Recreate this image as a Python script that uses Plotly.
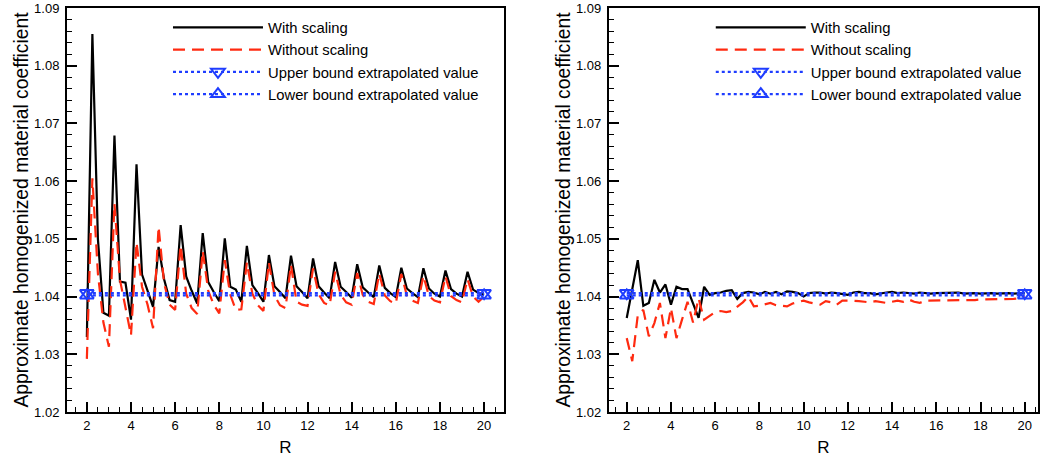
import plotly.graph_objects as go
from plotly.subplots import make_subplots

# R sampling (same for both panels)
r_vals = [2.0, 2.25, 2.5, 2.75, 3.0, 3.25, 3.5, 3.75, 4.0, 4.25, 4.5, 4.75,
          5.0, 5.25, 5.5, 5.75, 6.0, 6.25, 6.5, 6.75, 7.0, 7.25, 7.5, 7.75,
          8.0, 8.25, 8.5, 8.75, 9.0, 9.25, 9.5, 9.75, 10.0, 10.25, 10.5, 10.75,
          11.0, 11.25, 11.5, 11.75, 12.0, 12.25, 12.5, 12.75, 13.0, 13.25, 13.5, 13.75,
          14.0, 14.25, 14.5, 14.75, 15.0, 15.25, 15.5, 15.75, 16.0, 16.25, 16.5, 16.75,
          17.0, 17.25, 17.5, 17.75, 18.0, 18.25, 18.5, 18.75, 19.0, 19.25, 19.5, 19.75,
          20.0]

# left panel
left_with = [1.0330, 1.0855, 1.0500, 1.0372, 1.0367, 1.0679, 1.0426, 1.0424,
             1.0360, 1.0629, 1.0438, 1.0410, 1.0382, 1.0486, 1.0430, 1.0394,
             1.0391, 1.0524, 1.0435, 1.0410, 1.0388, 1.0510, 1.0425, 1.0408,
             1.0392, 1.0501, 1.0417, 1.0412, 1.0391, 1.0488, 1.0420, 1.0406,
             1.0391, 1.0472, 1.0418, 1.0408, 1.0397, 1.0471, 1.0418, 1.0408,
             1.0397, 1.0466, 1.0418, 1.0407, 1.0397, 1.0460, 1.0417, 1.0408,
             1.0398, 1.0456, 1.0416, 1.0407, 1.0399, 1.0454, 1.0415, 1.0406,
             1.0399, 1.0450, 1.0414, 1.0406, 1.0399, 1.0449, 1.0414, 1.0405,
             1.0400, 1.0445, 1.0413, 1.0405, 1.0400, 1.0443, 1.0412, 1.0406,
             1.0403]
left_without = [1.0292, 1.0605, 1.0440, 1.0355, 1.0313, 1.0561, 1.0429, 1.0383,
                1.0333, 1.0494, 1.0417, 1.0386, 1.0345, 1.0521, 1.0423, 1.0386,
                1.0377, 1.0489, 1.0405, 1.0380, 1.0370, 1.0479, 1.0410, 1.0386,
                1.0371, 1.0463, 1.0403, 1.0377, 1.0378, 1.0459, 1.0405, 1.0385,
                1.0375, 1.0459, 1.0402, 1.0385, 1.0380, 1.0455, 1.0391, 1.0386,
                1.0384, 1.0449, 1.0404, 1.0389, 1.0385, 1.0443, 1.0403, 1.0390,
                1.0386, 1.0441, 1.0403, 1.0391, 1.0387, 1.0440, 1.0402, 1.0392,
                1.0388, 1.0439, 1.0402, 1.0393, 1.0389, 1.0436, 1.0401, 1.0393,
                1.0390, 1.0435, 1.0401, 1.0394, 1.0390, 1.0430, 1.0400, 1.0391,
                1.0400]

# right panel
right_with = [1.0363, 1.0412, 1.0463, 1.0384, 1.0389, 1.0429, 1.0407, 1.0421,
              1.0386, 1.0417, 1.0413, 1.0413, 1.0389, 1.0363, 1.0417, 1.0403,
              1.0406, 1.0407, 1.0410, 1.0411, 1.0396, 1.0406, 1.0408, 1.0407,
              1.0404, 1.0408, 1.0405, 1.0408, 1.0404, 1.0409, 1.0408, 1.0406,
              1.0400, 1.0406, 1.0407, 1.0407, 1.0405, 1.0407, 1.0406, 1.0405,
              1.0403, 1.0407, 1.0408, 1.0406, 1.0406, 1.0404, 1.0406, 1.0407,
              1.0408, 1.0406, 1.0407, 1.0406, 1.0405, 1.0407, 1.0406, 1.0405,
              1.0406, 1.0406, 1.0407, 1.0406, 1.0407, 1.0405, 1.0406, 1.0406,
              1.0405, 1.0406, 1.0406, 1.0405, 1.0406, 1.0406, 1.0405, 1.0406,
              1.0406]
right_without = [1.0328, 1.0288, 1.0368, 1.0377, 1.0331, 1.0354, 1.0389, 1.0328,
                 1.0380, 1.0328, 1.0360, 1.0391, 1.0355, 1.0397, 1.0360, 1.0367,
                 1.0373, 1.0375, 1.0373, 1.0375, 1.0382, 1.0390, 1.0400, 1.0383,
                 1.0384, 1.0386, 1.0389, 1.0385, 1.0384, 1.0383, 1.0388, 1.0390,
                 1.0393, 1.0390, 1.0388, 1.0386, 1.0392, 1.0390, 1.0386, 1.0393,
                 1.0393, 1.0393, 1.0392, 1.0391, 1.0390, 1.0392, 1.0390, 1.0389,
                 1.0391, 1.0393, 1.0391, 1.0395, 1.0391, 1.0389, 1.0393, 1.0393,
                 1.0393, 1.0393, 1.0394, 1.0393, 1.0394, 1.0394, 1.0393, 1.0394,
                 1.0395, 1.0395, 1.0395, 1.0396, 1.0396, 1.0396, 1.0396, 1.0397,
                 1.0400]

# extrapolated bounds (drawn at the two ends of R)
bound_r = [2.0, 20.0]
upper_bound = [1.0406, 1.0406]
lower_bound = [1.0402, 1.0402]

FONT = "Liberation Sans, Arial, Helvetica, sans-serif"
BLUE = "#1f3dff"
RED = "#ff2a10"

fig = make_subplots(rows=1, cols=2)

panels = [(1, left_with, left_without, "legend"), (2, right_with, right_without, "legend2")]
for col, with_vals, without_vals, leg in panels:
    fig.add_trace(go.Scatter(x=r_vals, y=with_vals, mode="lines", name="With scaling",
                             line=dict(color="black", width=2.2), legend=leg), row=1, col=col)
    fig.add_trace(go.Scatter(x=r_vals, y=without_vals, mode="lines", name="Without scaling",
                             line=dict(color=RED, width=2.2, dash="12px,7px"), legend=leg), row=1, col=col)
    fig.add_trace(go.Scatter(x=bound_r, y=upper_bound, mode="lines+markers",
                             name="Upper bound extrapolated value",
                             line=dict(color=BLUE, width=2.2, dash="dot"),
                             marker=dict(symbol="triangle-down-open", size=12, color=BLUE,
                                         line=dict(width=2, color=BLUE)),
                             legend=leg), row=1, col=col)
    fig.add_trace(go.Scatter(x=bound_r, y=lower_bound, mode="lines+markers",
                             name="Lower bound extrapolated value",
                             line=dict(color=BLUE, width=2.2, dash="dot"),
                             marker=dict(symbol="triangle-up-open", size=12, color=BLUE,
                                         line=dict(width=2, color=BLUE)),
                             legend=leg), row=1, col=col)

axis_common = dict(showline=True, linecolor="black", linewidth=2, mirror=True,
                   ticks="inside", ticklen=10, tickwidth=2, tickcolor="black",
                   showgrid=False, zeroline=False,
                   tickfont=dict(family=FONT, size=13, color="black"))
minor_style = dict(ticks="inside", ticklen=5, tickwidth=1, tickcolor="black", showgrid=False)

fig.update_xaxes(**axis_common, tick0=0, dtick=2, minor=dict(dtick=0.5, **minor_style),
                 title=dict(text="R", font=dict(family=FONT, size=17, color="black"), standoff=10))
fig.update_yaxes(**axis_common, range=[1.02, 1.09], dtick=0.01, tickformat=".2f",
                 ticklabelstandoff=3, minor=dict(dtick=0.002, **minor_style),
                 title=dict(text="Approximate homogenized material coefficient",
                            font=dict(family=FONT, size=19.3, color="black"), standoff=0))

fig.update_layout(
    xaxis=dict(domain=[0, 0.450], range=[1.1, 20.9]),
    xaxis2=dict(domain=[0.558, 1.0], range=[1.19, 20.6]),
    width=1040, height=461,
    margin=dict(l=67, r=0, t=8, b=49),
    paper_bgcolor="white", plot_bgcolor="white",
    font=dict(family=FONT, color="black"),
    legend=dict(x=0.104, y=0.992, xanchor="left", yanchor="top", bgcolor="rgba(0,0,0,0)",
                font=dict(family=FONT, size=14.8), itemwidth=90),
    legend2=dict(x=0.663, y=0.992, xanchor="left", yanchor="top", bgcolor="rgba(0,0,0,0)",
                 font=dict(family=FONT, size=14.8), itemwidth=90),
)

# drop the default 8px body margin so the figure fills the window exactly
fig.write_html("out.html", config={"displayModeBar": False},
               post_script="document.body.style.margin = '0px';")
